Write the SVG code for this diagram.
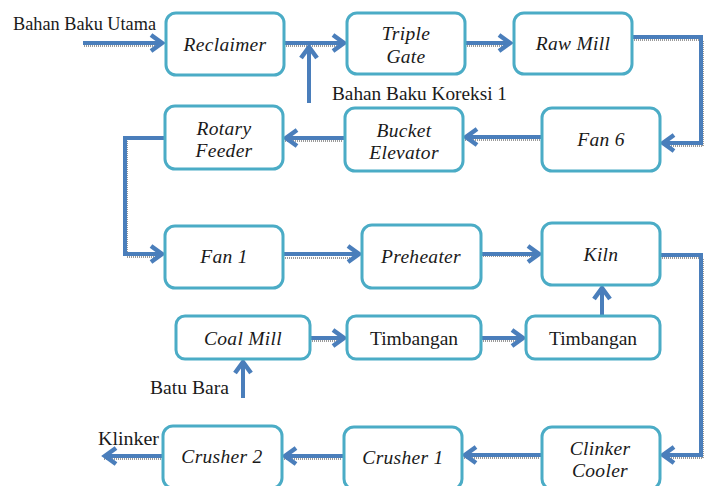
<svg xmlns="http://www.w3.org/2000/svg" width="710" height="486" viewBox="0 0 710 486">
<style>
.box{fill:#ffffff;stroke:#4bacc6;stroke-width:3}
.t{font-family:"Liberation Serif","Times New Roman",serif;font-size:19.5px;fill:#1a1a1a;text-anchor:middle}
.i{font-style:italic;letter-spacing:0.3px}
.lbl{font-family:"Liberation Serif","Times New Roman",serif;font-size:19px;fill:#1a1a1a}
.c{fill:none;stroke:#4a7ebb;stroke-width:4;stroke-linejoin:miter}
.s{fill:none;stroke:#9a9a9a;stroke-width:2;stroke-dasharray:1 1}
</style>
<defs>
<marker id="ah" markerUnits="userSpaceOnUse" markerWidth="30" markerHeight="30" refX="0" refY="0" viewBox="-20 -15 30 30" orient="auto" overflow="visible">
<path d="M-12,-8 L-1,0 L-12,8" fill="none" stroke="#4a7ebb" stroke-width="4.5" stroke-linejoin="miter"/>
</marker>
</defs>
<g id="connectors">
<g id="shadows">
<path class="s" d="M84,46 H160"/>
<path class="s" d="M286,46 H342"/>
<path class="s" d="M467,46 H508"/>
<path class="s" d="M634,40 H703 V146 H664"/>
<path class="s" d="M465,140 H540"/>
<path class="s" d="M285,141 H343"/>
<path class="s" d="M127,141 V257 H160"/>
<path class="s" d="M285,258 H357"/>
<path class="s" d="M483,256 H537"/>
<path class="s" d="M662,258 H703 V458 H664"/>
<path class="s" d="M312,341 H342"/>
<path class="s" d="M483,341 H521"/>
<path class="s" d="M464,458 H540"/>
<path class="s" d="M284,459 H342"/>
<path class="s" d="M104,459 H161"/>
</g>
<path class="c" d="M83,43 H163" marker-end="url(#ah)"/>
<path class="c" d="M284,43 H345" marker-end="url(#ah)"/>
<path class="c" d="M309,103 V46" marker-end="url(#ah)"/>
<path class="c" d="M465,43 H511" marker-end="url(#ah)"/>
<path class="c" d="M632,37 H701 V143 H662" marker-end="url(#ah)"/>
<path class="c" d="M542,137 H465" marker-end="url(#ah)"/>
<path class="c" d="M345,138 H285" marker-end="url(#ah)"/>
<path class="c" d="M165,138 H125 V254 H163" marker-end="url(#ah)"/>
<path class="c" d="M283,254 H360" marker-end="url(#ah)"/>
<path class="c" d="M481,254 H540" marker-end="url(#ah)"/>
<path class="c" d="M660,255 H701 V455 H662" marker-end="url(#ah)"/>
<path class="c" d="M602,316 V287" marker-end="url(#ah)"/>
<path class="c" d="M310,338 H345" marker-end="url(#ah)"/>
<path class="c" d="M481,338 H524" marker-end="url(#ah)"/>
<path class="c" d="M243,398 V361" marker-end="url(#ah)"/>
<path class="c" d="M542,455 H464" marker-end="url(#ah)"/>
<path class="c" d="M344,456 H284" marker-end="url(#ah)"/>
<path class="c" d="M163,456 H104" marker-end="url(#ah)"/>
</g>
<g id="reclaimer"><rect class="box" x="166" y="13" width="118" height="62" rx="10"/><text class="t i" x="225" y="51">Reclaimer</text></g>
<g id="triple-gate"><rect class="box" x="347" y="13" width="118" height="61" rx="10"/><text class="t i" x="406" y="40">Triple</text><text class="t i" x="406" y="63">Gate</text></g>
<g id="raw-mill"><rect class="box" x="514" y="13" width="118" height="61" rx="10"/><text class="t i" x="573" y="50">Raw Mill</text></g>
<g id="fan-6"><rect class="box" x="542" y="108" width="118" height="63" rx="10"/><text class="t i" x="601" y="146">Fan 6</text></g>
<g id="bucket-elevator"><rect class="box" x="345" y="108" width="118" height="63" rx="10"/><text class="t i" x="404" y="137">Bucket</text><text class="t i" x="404" y="159">Elevator</text></g>
<g id="rotary-feeder"><rect class="box" x="165" y="106" width="118" height="63" rx="10"/><text class="t i" x="224" y="135">Rotary</text><text class="t i" x="224" y="157">Feeder</text></g>
<g id="fan-1"><rect class="box" x="165" y="226" width="118" height="62" rx="10"/><text class="t i" x="224" y="263">Fan 1</text></g>
<g id="preheater"><rect class="box" x="362" y="225" width="119" height="63" rx="10"/><text class="t i" x="421" y="263">Preheater</text></g>
<g id="kiln"><rect class="box" x="542" y="223" width="118" height="62" rx="10"/><text class="t i" x="601" y="261">Kiln</text></g>
<g id="coal-mill"><rect class="box" x="176" y="316" width="134" height="43" rx="9"/><text class="t i" x="243" y="345">Coal Mill</text></g>
<g id="timbangan-1"><rect class="box" x="347" y="316" width="134" height="43" rx="9"/><text class="t" x="414" y="345">Timbangan</text></g>
<g id="timbangan-2"><rect class="box" x="526" y="316" width="134" height="43" rx="9"/><text class="t" x="593" y="345">Timbangan</text></g>
<g id="crusher-2"><rect class="box" x="163" y="426" width="119" height="62" rx="10"/><text class="t i" x="222" y="463">Crusher 2</text></g>
<g id="crusher-1"><rect class="box" x="344" y="427" width="118" height="62" rx="10"/><text class="t i" x="403" y="464">Crusher 1</text></g>
<g id="clinker-cooler"><rect class="box" x="542" y="427" width="118" height="62" rx="10"/><text class="t i" x="600" y="455">Clinker</text><text class="t i" x="600" y="477">Cooler</text></g>
<g id="labels">
<text class="lbl" x="13" y="30" textLength="143" lengthAdjust="spacingAndGlyphs">Bahan Baku Utama</text>
<text class="lbl" x="332" y="100" textLength="175" lengthAdjust="spacingAndGlyphs">Bahan Baku Koreksi 1</text>
<text class="lbl" x="150" y="394" textLength="79" lengthAdjust="spacingAndGlyphs">Batu Bara</text>
<text class="lbl" x="98" y="445" textLength="61" lengthAdjust="spacingAndGlyphs">Klinker</text>
</g>
</svg>
